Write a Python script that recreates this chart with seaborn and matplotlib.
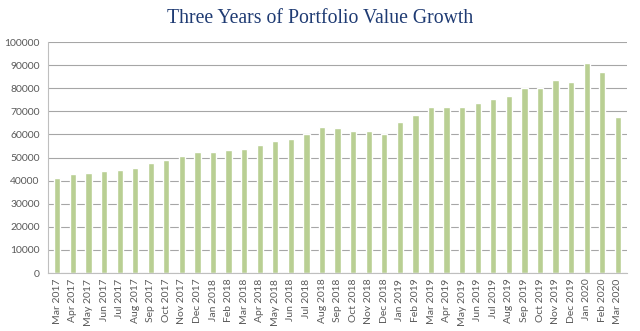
import matplotlib
matplotlib.use("Agg")
import matplotlib.pyplot as plt
import seaborn as sns
import pandas as pd

months = ["Mar 2017", "Apr 2017", "May 2017", "Jun 2017", "Jul 2017", "Aug 2017",
          "Sep 2017", "Oct 2017", "Nov 2017", "Dec 2017", "Jan 2018", "Feb 2018",
          "Mar 2018", "Apr 2018", "May 2018", "Jun 2018", "Jul 2018", "Aug 2018",
          "Sep 2018", "Oct 2018", "Nov 2018", "Dec 2018", "Jan 2019", "Feb 2019",
          "Mar 2019", "Apr 2019", "May 2019", "Jun 2019", "Jul 2019", "Aug 2019",
          "Sep 2019", "Oct 2019", "Nov 2019", "Dec 2019", "Jan 2020", "Feb 2020",
          "Mar 2020"]
values = [41200, 42800, 43100, 44300, 44600, 45600,
          47500, 49100, 50600, 52600, 52600, 53400,
          53900, 55600, 57300, 58200, 60300, 63100,
          62800, 61400, 61700, 60000, 65300, 68300,
          72000, 72000, 72000, 73700, 75400, 76600,
          79900, 80300, 83400, 82700, 90900, 87000,
          67700]
y_ticks = list(range(0, 100001, 10000))

df = pd.DataFrame({"month": months, "value": values})

sns.set_theme(style="white")
plt.rcParams["font.family"] = ["Lato", "DejaVu Sans"]

fig = plt.figure(figsize=(6.4, 3.31), dpi=100)
ax = fig.add_axes([0.075, 0.175, 0.905, 0.698])
ax.set_axisbelow(True)

sns.barplot(data=df, x="month", y="value", color="#B9CF93", width=0.4,
            saturation=1, ax=ax)

ax.set_ylim(0, 100000)
ax.set_yticks(y_ticks)
ax.set_yticklabels([str(t) for t in y_ticks], fontsize=7.5, color="#595959")
ax.set_xlim(-0.6, len(months) - 0.4)
ax.tick_params(axis="x", labelrotation=90, labelsize=7.5, colors="#595959",
               length=0, pad=4)
ax.tick_params(axis="y", length=0, pad=6)
ax.yaxis.grid(True, color="#A6A6A6", linewidth=0.8, linestyle="-")
ax.xaxis.grid(False)
ax.set_xlabel("")
ax.set_ylabel("")

for side in ["top", "right"]:
    ax.spines[side].set_visible(False)
ax.spines["left"].set_color("#BFBFBF")
ax.spines["left"].set_linewidth(0.8)
ax.spines["bottom"].set_color("#BFBFBF")
ax.spines["bottom"].set_linewidth(0.8)

fig.text(0.5, 0.945, "Three Years of Portfolio Value Growth",
         ha="center", va="center", fontsize=14.2, color="#1F3B73",
         family=["Liberation Serif", "DejaVu Serif"])

fig.savefig("out.png", dpi=100, facecolor="white")
